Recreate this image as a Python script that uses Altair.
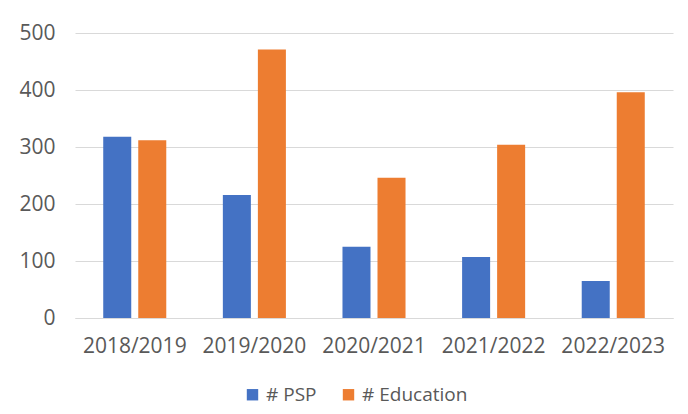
import altair as alt
import pandas as pd

years = ["2018/2019", "2019/2020", "2020/2021", "2021/2022", "2022/2023"]
psp = [318, 216, 125, 107, 65]
education = [312, 471, 246, 304, 396]
series = ["# PSP", "# Education"]
colors = ["#4472C4", "#ED7D31"]

rows = []
for i, y in enumerate(years):
    rows.append({"year": y, "series": series[0], "value": psp[i]})
    rows.append({"year": y, "series": series[1], "value": education[i]})
df = pd.DataFrame(rows)

font = "Open Sans"
txt = "#595959"
grid = "#D9D9D9"
fs = 21

chart = alt.Chart(df).mark_bar().encode(
    x=alt.X("year:N", sort=years, title=None,
            scale=alt.Scale(paddingInner=0.473, paddingOuter=0.236),
            axis=alt.Axis(labelAngle=0, labelFontSize=fs, labelColor=txt, labelFont=font,
                          ticks=False, domainColor=grid, labelPadding=17)),
    xOffset=alt.XOffset("series:N", sort=series,
                        scale=alt.Scale(paddingInner=0.2, paddingOuter=0)),
    y=alt.Y("value:Q", scale=alt.Scale(domain=[0, 500]),
            axis=alt.Axis(values=[0, 100, 200, 300, 400, 500], title=None, domain=False,
                          ticks=False, gridColor=grid, labelFontSize=fs, labelColor=txt,
                          labelFont=font, labelPadding=20)),
    color=alt.Color("series:N", sort=series,
                    scale=alt.Scale(domain=series, range=colors),
                    legend=alt.Legend(title=None, orient="none", legendX=168, legendY=352,
                                      direction="horizontal", symbolType="square",
                                      symbolSize=130, labelFontSize=19, labelFont=font,
                                      labelColor=txt, columnPadding=22, symbolStrokeWidth=0,
                                      labelOffset=4)),
).properties(
    width=598, height=285,
    autosize=alt.AutoSizeParams(type="none"),
    padding={"left": 67, "top": 25, "right": 7, "bottom": 90},
).configure_view(stroke=None)

chart.save("out.html", embed_options={"renderer": "svg", "actions": False})
